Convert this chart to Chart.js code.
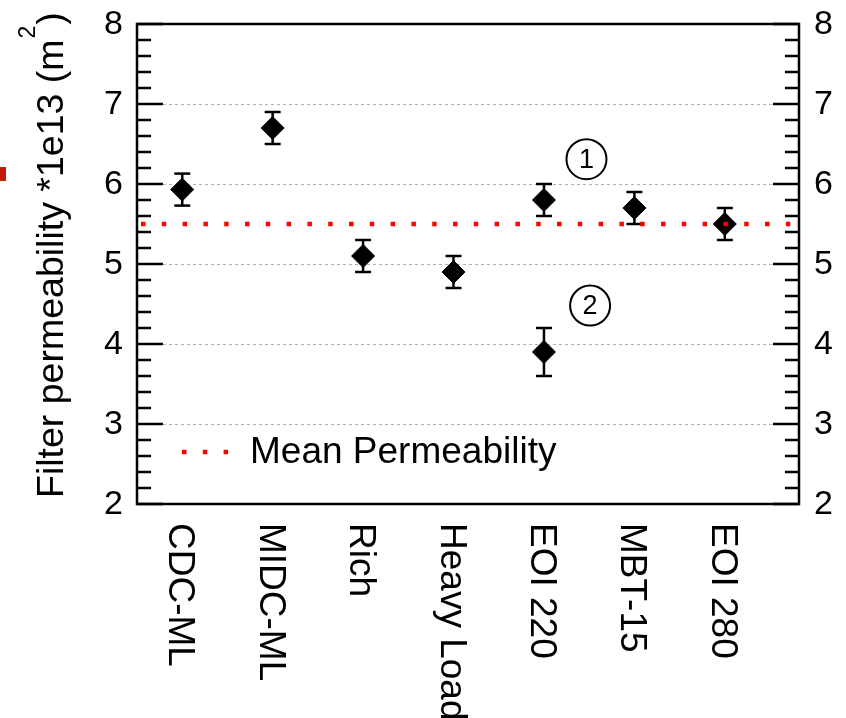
<!DOCTYPE html>
<html>
<head>
<meta charset="utf-8">
<script src="https://cdn.jsdelivr.net/npm/chart.js@4"></script>
<style>
  html, body { margin: 0; padding: 0; background: #fff; overflow: hidden; }
  #wrap { position: relative; width: 846px; height: 718px; }
  #edge { position: absolute; left: 0; top: 167px; width: 6px; height: 14px; background: #c21b05; }
</style>
</head>
<body>
<div id="wrap">
  <canvas id="permChart" width="846" height="718"></canvas>
  <div id="edge"></div>
</div>
<script>
// ===== Data =====
const categories = ['CDC-ML', 'MIDC-ML', 'Rich', 'Heavy Load', 'EOI 220', 'MBT-15', 'EOI 280'];
// EOI 220 was measured twice, so it appears twice here
const sampleIdx    = [1, 2, 3, 4, 5, 5, 6, 7];
const permeability = [5.93, 6.7, 5.1, 4.9, 5.8, 3.9, 5.7, 5.5];
const errorHalf    = [0.2, 0.2, 0.2, 0.2, 0.2, 0.3, 0.2, 0.2];
const meanPermeability = 5.5;
const yTicks = [2, 3, 4, 5, 6, 7, 8];
// circled markers (data coordinates)
const markerLabels = ['1', '2'];
const markerX = [5.47, 5.51];
const markerY = [6.31, 4.48];

const FONT = '"Liberation Sans", Arial, Helvetica, sans-serif';
const MAJOR = 26, MINOR = 14;

function seg(ctx, x1, y1, x2, y2) {
  ctx.beginPath();
  ctx.moveTo(x1, y1);
  ctx.lineTo(x2, y2);
  ctx.stroke();
}

// ===== Frame, grid, error bars, labels =====
const decorPlugin = {
  id: 'decor',
  beforeDatasetsDraw(chart) {
    const { ctx, chartArea: a, scales: { x, y } } = chart;
    ctx.save();
    // dotted grid at inner major ticks
    ctx.strokeStyle = '#b0b0b0';
    ctx.lineWidth = 1;
    ctx.setLineDash([3, 3]);
    yTicks.slice(1, -1).forEach(v => {
      const py = Math.round(y.getPixelForValue(v)) + 0.5;
      seg(ctx, a.left + MAJOR, py, a.right - MAJOR, py);
    });
    // error bars
    ctx.setLineDash([]);
    ctx.strokeStyle = '#000';
    ctx.lineWidth = 2.5;
    permeability.forEach((v, i) => {
      const px = x.getPixelForValue(sampleIdx[i]);
      const top = y.getPixelForValue(v + errorHalf[i]);
      const bot = y.getPixelForValue(v - errorHalf[i]);
      seg(ctx, px, top, px, bot);
      seg(ctx, px - 8, top, px + 8, top);
      seg(ctx, px - 8, bot, px + 8, bot);
    });
    ctx.restore();
  },
  afterDatasetsDraw(chart) {
    const { ctx, chartArea: a, scales: { x, y } } = chart;
    ctx.save();

    // mean permeability line
    ctx.strokeStyle = '#ff0000';
    ctx.lineWidth = 4.5;
    ctx.setLineDash([4.5, 16.3]);
    const my = y.getPixelForValue(meanPermeability);
    seg(ctx, a.left + 4, my, a.right - 8, my);

    // legend
    const ly = a.bottom - 52;
    seg(ctx, a.left + 45, ly, a.left + 95, ly);
    ctx.setLineDash([]);
    ctx.fillStyle = '#000';
    ctx.font = '37px ' + FONT;
    ctx.textBaseline = 'middle';
    ctx.textAlign = 'left';
    ctx.fillText('Mean Permeability', a.left + 113, ly + 1);

    // frame
    ctx.strokeStyle = '#000';
    ctx.lineWidth = 2.5;
    ctx.strokeRect(a.left, a.top, a.right - a.left, a.bottom - a.top);

    // inward ticks on both sides
    for (let i = 0; i <= 30; i++) {
      const v = yTicks[0] + i * 0.2;
      const py = Math.round(y.getPixelForValue(v));
      const len = i % 5 === 0 ? MAJOR : MINOR;
      seg(ctx, a.left, py, a.left + len, py);
      seg(ctx, a.right - len, py, a.right, py);
    }

    // y tick labels
    ctx.font = '34px ' + FONT;
    ctx.textBaseline = 'middle';
    yTicks.forEach(v => {
      const py = y.getPixelForValue(v) + 1;
      ctx.textAlign = 'right';
      ctx.fillText(String(v), a.left - 14, py);
      ctx.textAlign = 'left';
      ctx.fillText(String(v), a.right + 15, py);
    });

    // category labels, reading downwards
    ctx.font = '37px ' + FONT;
    ctx.textAlign = 'left';
    ctx.textBaseline = 'alphabetic';
    categories.forEach((c, i) => {
      const px = x.getPixelForValue(i + 1);
      ctx.save();
      ctx.translate(px - 13, a.bottom + 19);
      ctx.rotate(Math.PI / 2);
      ctx.fillText(c, 0, 0);
      ctx.restore();
    });

    // y axis title with superscript
    ctx.save();
    ctx.translate(63, 498);
    ctx.rotate(-Math.PI / 2);
    ctx.font = '37.5px ' + FONT;
    const main = 'Filter permeability *1e13 (m';
    ctx.fillText(main, 0, 0);
    let w = ctx.measureText(main).width;
    ctx.font = '23px ' + FONT;
    ctx.fillText('2', w + 1, -28);
    w += ctx.measureText('2').width + 2;
    ctx.font = '37.5px ' + FONT;
    ctx.fillText(')', w, 0);
    ctx.restore();

    // circled markers
    ctx.lineWidth = 2;
    ctx.font = '27px ' + FONT;
    ctx.textAlign = 'center';
    ctx.textBaseline = 'middle';
    markerLabels.forEach((t, i) => {
      const px = x.getPixelForValue(markerX[i]);
      const py = y.getPixelForValue(markerY[i]);
      ctx.beginPath();
      ctx.arc(px, py, 20, 0, Math.PI * 2);
      ctx.stroke();
      ctx.fillText(t, px, py + 1);
    });

    ctx.restore();
  }
};

const ctx = document.getElementById('permChart').getContext('2d');
new Chart(ctx, {
  type: 'scatter',
  data: {
    datasets: [{
      label: 'Permeability',
      data: permeability.map((v, i) => ({ x: sampleIdx[i], y: v })),
      pointStyle: 'rectRot',
      pointRadius: 11.5,
      backgroundColor: '#000',
      borderColor: '#000',
      borderWidth: 1
    }]
  },
  options: {
    responsive: false,
    animation: false,
    layout: { padding: { left: 137, right: 47, top: 24, bottom: 214 } },
    scales: {
      x: { type: 'linear', min: 0.5, max: 7.82, display: false },
      y: { type: 'linear', min: 2, max: 8, display: false }
    },
    plugins: {
      legend: { display: false },
      tooltip: { enabled: false }
    }
  },
  plugins: [decorPlugin]
});
</script>
</body>
</html>
